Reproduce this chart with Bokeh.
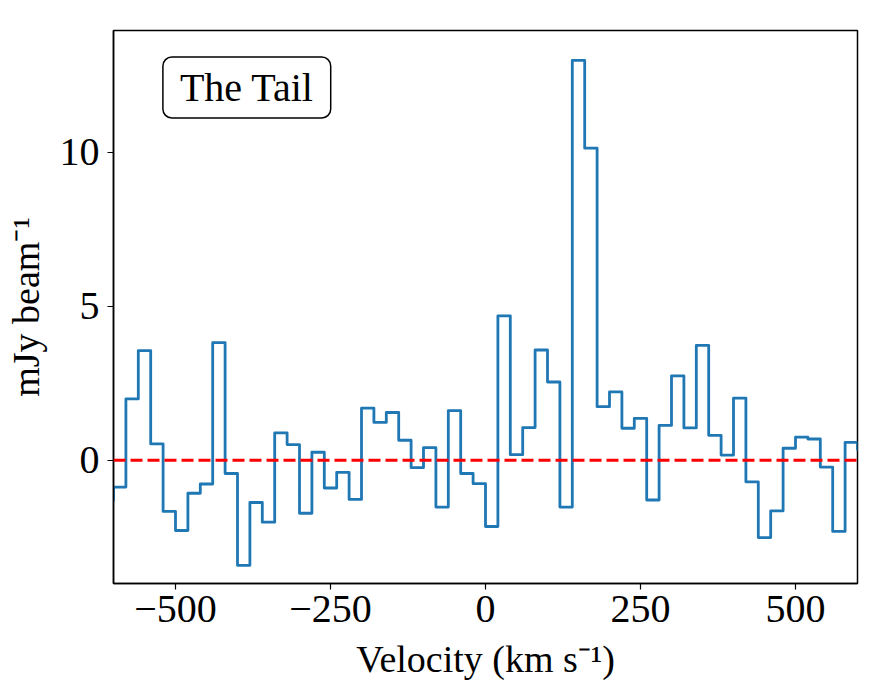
from bokeh.plotting import figure
from bokeh.models import Range1d, FixedTicker, Span, Label
from bokeh.embed import file_html
from bokeh.resources import INLINE

# Channel edges (km/s), 20 km/s channels
bin_edges = list(range(-620, 621, 20))

# Flux density per channel (mJy/beam)
flux = [
    -1.30, -0.87, 1.99, 3.56, 0.53, -1.66, -2.28, -1.07, -0.77, 3.82,
    -0.43, -3.41, -1.37, -2.01, 0.89, 0.51, -1.72, 0.26, -0.90, -0.39,
    -1.27, 1.69, 1.23, 1.55, 0.65, -0.24, 0.41, -1.52, 1.61, -0.43,
    -0.76, -2.15, 4.69, 0.18, 1.06, 3.58, 2.54, -1.52, 12.98, 10.13,
    1.74, 2.22, 1.04, 1.36, -1.29, 1.13, 2.74, 1.05, 3.73, 0.81,
    0.17, 2.02, -0.70, -2.51, -1.64, 0.39, 0.75, 0.69, -0.22, -2.31,
    0.58, 0.35,
]

x_ticks = [-500, -250, 0, 250, 500]
x_tick_labels = {-500: "\u2212500", -250: "\u2212250", 0: "0", 250: "250", 500: "500"}
y_ticks = [0, 5, 10]

SERIF = "Liberation Serif"

p = figure(
    width=880, height=699,
    x_range=Range1d(-600, 600), y_range=Range1d(-4.0, 13.95),
    output_backend="svg", toolbar_location=None,
    min_border_left=113, min_border_right=23,
    min_border_top=30, min_border_bottom=116,
)
p.grid.visible = False
p.outline_line_color = "black"
p.outline_line_width = 1.5
p.background_fill_color = "white"
p.border_fill_color = "white"

for ax in (p.xaxis[0], p.yaxis[0]):
    ax.axis_line_color = "black"
    ax.axis_line_width = 1.5
    ax.major_tick_line_color = "black"
    ax.major_tick_line_width = 1.2
    ax.major_tick_out = 6
    ax.major_tick_in = 0
    ax.minor_tick_line_color = None
    ax.major_label_text_font = SERIF
    ax.major_label_text_font_size = "40px"
    ax.major_label_text_color = "black"
    ax.axis_label_text_font = SERIF
    ax.axis_label_text_font_size = "38px"
    ax.axis_label_text_font_style = "normal"
    ax.axis_label_text_color = "black"

p.xaxis.ticker = FixedTicker(ticks=x_ticks)
p.xaxis.major_label_overrides = x_tick_labels
p.yaxis.ticker = FixedTicker(ticks=y_ticks)
p.xaxis.axis_label = "Velocity (km s\u207b\u00b9)"
p.yaxis.axis_label = "mJy beam\u207b\u00b9"
p.xaxis.major_label_standoff = 6
p.xaxis.axis_label_standoff = 13
p.yaxis.major_label_standoff = 8
p.yaxis.axis_label_standoff = 10

# spectrum as a step line over channel edges
p.step(x=bin_edges, y=flux + [flux[-1]], mode="after",
       line_color="#1f77b4", line_width=2.8, line_join="round")

# zero level
p.add_layout(Span(location=0, dimension="width", line_color="red",
                  line_width=3, line_dash="12 5"))

p.add_layout(Label(
    x=-385, y=12.1, text="The Tail",
    text_align="center", text_baseline="middle",
    text_font=SERIF, text_font_size="40px", text_color="black",
    border_line_color="black", border_line_width=1.5,
    background_fill_color="white", padding=(17, 8), border_radius=9,
))

open("out.html", "w").write(file_html(p, INLINE))
